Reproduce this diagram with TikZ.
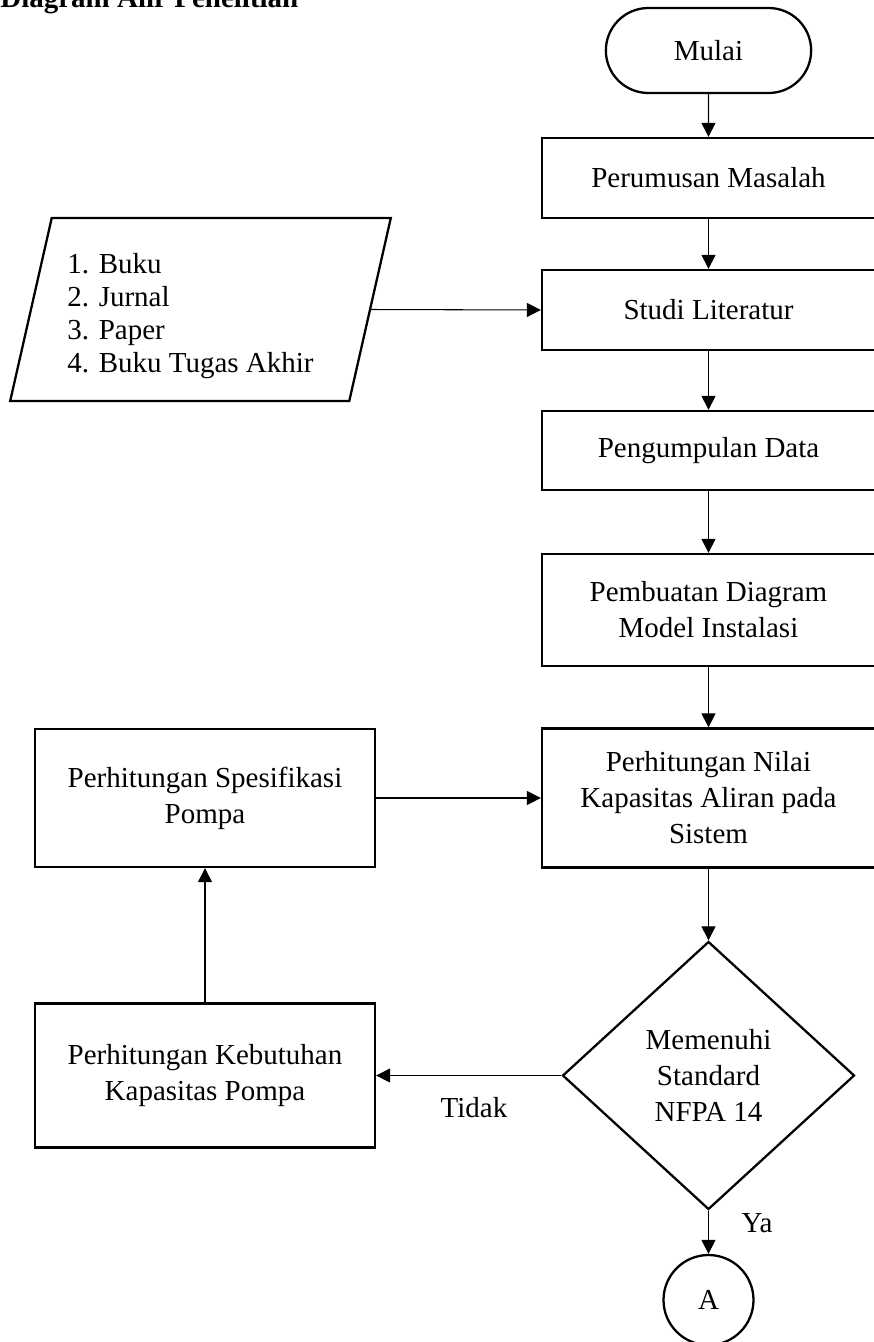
\documentclass[tikz,border=0pt]{standalone}
\usepackage{fontspec}
\setmainfont{Liberation Serif}
\usetikzlibrary{shapes.geometric,shapes.misc,arrows.meta}

\begin{document}
\begin{tikzpicture}[
  every node/.style={font=\fontsize{16.5}{20.5}\selectfont},
  proses/.style={draw,line width=1.3pt,minimum width=6.66cm,align=center,inner sep=2pt},
  kiri/.style={draw,line width=1.3pt,minimum width=6.80cm,align=center,inner sep=2pt},
  panah/.style={line width=0.6pt,-{Triangle[length=0.28cm,width=0.28cm]}}
]
\useasboundingbox (0,0) rectangle (17.46,-26.84);

\node[anchor=base west,inner sep=0,font=\bfseries\fontsize{16.5}{20.5}\selectfont] (judul) at (0,-0.15) {Diagram Alir Penelitian};

% alur utama
\node[draw,rounded rectangle,line width=1.3pt,minimum width=4.34cm,minimum height=1.70cm] (mulai) at (14.17,-1.01) {Mulai};
\node[proses,minimum height=1.60cm] (rumus) at (14.17,-3.56) {Perumusan Masalah};
\node[proses,minimum height=1.60cm] (studi) at (14.17,-6.20) {Studi Literatur};
\node[proses,minimum height=1.58cm] (data) at (14.17,-9.01) {Pengumpulan Data};
\node[proses,minimum height=2.24cm] (model) at (14.17,-12.20) {Pembuatan Diagram\\Model Instalasi};
\node[proses,minimum height=2.78cm] (nilai) at (14.17,-15.96) {Perhitungan Nilai\\Kapasitas Aliran pada\\Sistem};
\node[draw,diamond,line width=1.3pt,minimum width=5.84cm,minimum height=5.36cm,inner sep=0,align=center] (cek) at (14.17,-21.51) {Memenuhi\\Standard\\NFPA 14};
\node[draw,circle,line width=1.3pt,minimum size=1.80cm] (A) at (14.17,-26.00) {A};

% literatur
\node[draw,trapezium,trapezium left angle=77,trapezium right angle=103,trapezium stretches,
  line width=1.3pt,minimum width=7.62cm,minimum height=3.66cm,
  font=\fontsize{16.5}{18.8}\selectfont] (sumber) at (4.01,-6.19)
  {\hspace*{-0.4cm}\raisebox{-0.14cm}[\height][\depth]{\begin{tabular}{@{}l@{}}1. Buku\\2. Jurnal\\3. Paper\\4. Buku Tugas Akhir\end{tabular}}};

% perhitungan pompa
\node[kiri,minimum height=2.76cm] (spek) at (4.10,-15.96) {Perhitungan Spesifikasi\\Pompa};
\node[kiri,minimum height=2.88cm] (butuh) at (4.10,-21.51) {Perhitungan Kebutuhan\\Kapasitas Pompa};

\draw[panah] (mulai) -- (rumus);
\draw[panah] (rumus) -- (studi);
\draw[panah] (studi) -- (data);
\draw[panah] (data) -- (model);
\draw[panah] (model) -- (nilai);
\draw[panah] (nilai) -- (cek);
\draw[panah] (sumber.east) -- (studi.west);
\draw[panah] (cek.west) -- (butuh.east);
\draw[panah] (butuh) -- (spek);
\draw[panah] (spek) -- (nilai);
\draw[panah] (cek.south) -- (A);

\node (tidak) at (9.48,-22.16) {Tidak};
\node (ya) at (15.14,-24.46) {Ya};
\end{tikzpicture}
\end{document}
